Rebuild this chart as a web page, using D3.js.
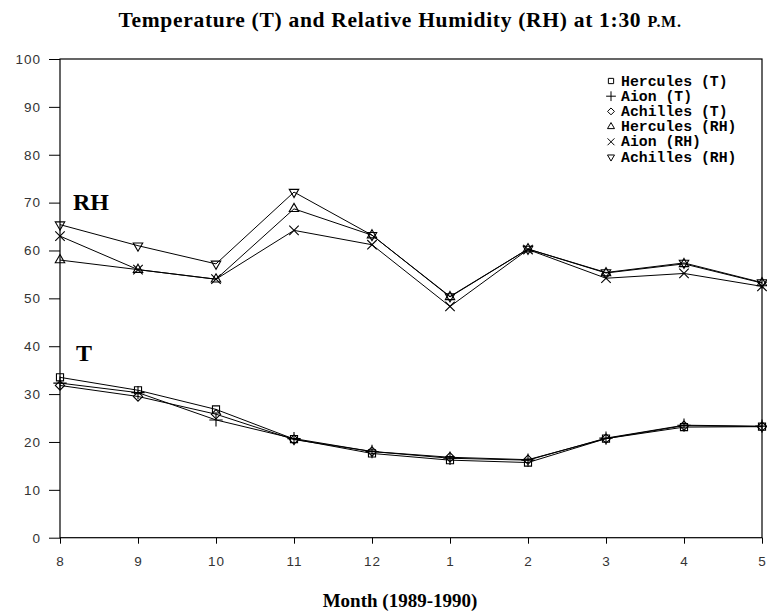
<!DOCTYPE html>
<html>
<head>
<meta charset="utf-8">
<script src="https://cdn.jsdelivr.net/npm/d3@7"></script>
<style>
  body { margin: 0; background: #fff; }
  svg { display: block; }
</style>
</head>
<body>
<svg width="767" height="616"></svg>
<script>
var months = ["8", "9", "10", "11", "12", "1", "2", "3", "4", "5"];
var yTicks = [0, 10, 20, 30, 40, 50, 60, 70, 80, 90, 100];

var herculesT  = [33.5, 30.8, 26.8, 20.6, 17.6, 16.2, 15.7, 20.7, 23.1, 23.2];
var aionT      = [32.3, 30.3, 24.6, 20.7, 18.0, 16.6, 16.2, 20.8, 23.5, 23.3];
var achillesT  = [31.8, 29.5, 25.8, 20.5, 18.0, 16.8, 16.3, 20.7, 23.4, 23.2];
var herculesRH = [58.0, 56.0, 54.0, 68.7, 63.2, 50.3, 60.3, 55.3, 57.2, 53.2];
var aionRH     = [63.0, 56.0, 54.0, 64.2, 61.2, 48.3, 60.2, 54.2, 55.2, 52.5];
var achillesRH = [65.4, 61.0, 57.2, 72.2, 63.2, 50.4, 60.3, 55.4, 57.4, 53.3];

var seriesNames = ["Hercules (T)", "Aion (T)", "Achilles (T)", "Hercules (RH)", "Aion (RH)", "Achilles (RH)"];

var loadVis = function() {
    var svg = d3.select("svg");
    var left = 60, right = 762, top = 59, bottom = 537.7;

    var x = d3.scalePoint().domain(months).range([left, right]);
    var y = d3.scaleLinear().domain([0, 100]).range([bottom, top]);

    var series = [
        { name: seriesNames[0], values: herculesT,  symbol: d3.symbolSquare2,   size: 64, rot: 0 },
        { name: seriesNames[1], values: aionT,      symbol: d3.symbolPlus,      size: 60, rot: 0 },
        { name: seriesNames[2], values: achillesT,  symbol: d3.symbolDiamond2,  size: 55, rot: 0 },
        { name: seriesNames[3], values: herculesRH, symbol: d3.symbolTriangle2, size: 64, rot: 0 },
        { name: seriesNames[4], values: aionRH,     symbol: d3.symbolTimes,     size: 60, rot: 0 },
        { name: seriesNames[5], values: achillesRH, symbol: d3.symbolTriangle2, size: 64, rot: 180 }
    ];

    // frame
    svg.append("rect")
        .attr("x", left).attr("y", top)
        .attr("width", right - left).attr("height", bottom - top)
        .attr("fill", "none").attr("stroke", "#000").attr("stroke-width", 1.2);

    // axes
    var yAxis = svg.append("g")
        .attr("transform", "translate(" + left + ",0)")
        .call(d3.axisLeft(y).tickValues(yTicks).tickSize(11).tickPadding(8));
    var xAxis = svg.append("g")
        .attr("transform", "translate(0," + bottom + ")")
        .call(d3.axisBottom(x).tickSize(6).tickPadding(13));

    [yAxis, xAxis].forEach(function(ax) {
        ax.select(".domain").remove();
        ax.selectAll("line").attr("stroke", "#000");
        ax.selectAll("text")
            .attr("font-family", "Liberation Sans, Arial, sans-serif")
            .attr("font-size", 13.5)
            .attr("letter-spacing", 1)
            .attr("fill", "#333");
    });

    var line = d3.line()
        .x(function(d, i) { return x(months[i]); })
        .y(function(d) { return y(d); });

    svg.append("g").selectAll("path")
        .data(series).enter()
        .append("path")
            .attr("d", function(s) { return line(s.values); })
            .attr("fill", "none")
            .attr("stroke", "#000")
            .attr("stroke-width", 1);

    series.forEach(function(s) {
        var sym = d3.symbol().type(s.symbol).size(s.size);
        svg.append("g").selectAll("path")
            .data(s.values).enter()
            .append("path")
                .attr("d", sym)
                .attr("transform", function(d, i) {
                    return "translate(" + x(months[i]) + "," + y(d) + ") rotate(" + s.rot + ")";
                })
                .attr("fill", "none")
                .attr("stroke", "#000")
                .attr("stroke-width", 1.1);
    });

    // legend
    var legend = svg.append("g").attr("transform", "translate(611,81)");
    series.forEach(function(s, i) {
        var g = legend.append("g").attr("transform", "translate(0," + (i * 15.2) + ")");
        g.append("path")
            .attr("d", d3.symbol().type(s.symbol).size(s.size * 0.55))
            .attr("transform", "rotate(" + s.rot + ")")
            .attr("fill", "none").attr("stroke", "#000").attr("stroke-width", 1);
        g.append("text")
            .attr("x", 10).attr("y", 4.5)
            .attr("font-family", "Liberation Mono, Courier New, monospace")
            .attr("font-weight", "bold")
            .attr("font-size", 14.8)
            .text(s.name);
    });

    // labels
    svg.append("text")
        .attr("x", 73).attr("y", 210)
        .attr("font-family", "Liberation Serif, Times New Roman, serif")
        .attr("font-weight", "bold").attr("font-size", 24)
        .text("RH");
    svg.append("text")
        .attr("x", 76).attr("y", 361)
        .attr("font-family", "Liberation Serif, Times New Roman, serif")
        .attr("font-weight", "bold").attr("font-size", 24)
        .text("T");

    var title = svg.append("text")
        .attr("x", 400).attr("y", 27)
        .attr("text-anchor", "middle")
        .attr("font-family", "Liberation Serif, Times New Roman, serif")
        .attr("font-weight", "bold").attr("font-size", 21.5)
        .attr("letter-spacing", 0.7);
    title.append("tspan").text("Temperature (T) and Relative Humidity (RH) at 1:30 ");
    title.append("tspan").attr("font-size", 16).text("P.M.");

    svg.append("text")
        .attr("x", 400).attr("y", 607)
        .attr("text-anchor", "middle")
        .attr("font-family", "Liberation Serif, Times New Roman, serif")
        .attr("font-weight", "bold").attr("font-size", 19)
        .text("Month (1989-1990)");
};

document.addEventListener('DOMContentLoaded', loadVis, false);
</script>
</body>
</html>
